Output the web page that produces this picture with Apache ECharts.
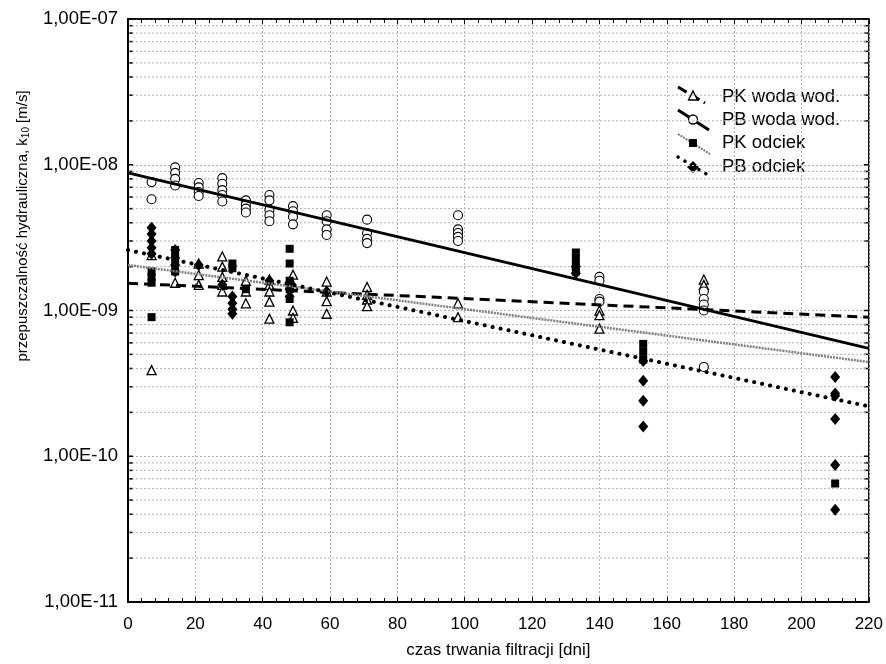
<!DOCTYPE html>
<html><head><meta charset="utf-8">
<script src="https://cdn.jsdelivr.net/npm/echarts@6/dist/echarts.min.js"></script>
<style>html,body{margin:0;padding:0;background:#fff}#c{width:886px;height:664px}</style>
</head><body><div id="c"></div>
<script>
// ---- data ----
const xTickValues = [0,20,40,60,80,100,120,140,160,180,200,220];
const yDecades = [1e-11,1e-10,1e-9,1e-8,1e-7];
const yTickLabels = ['1,00E-11','1,00E-10','1,00E-09','1,00E-08','1,00E-07'];
const seriesNames = ['PK woda wod.','PB woda wod.','PK odciek','PB odciek'];

// PK woda wod. (open triangles): [day, k10]
const pkWoda = [
 [7,2.4e-9],[7,3.9e-10],
 [14,1.55e-9],
 [21,2.1e-9],[21,1.75e-9],[21,1.5e-9],
 [28,2.35e-9],[28,2.0e-9],[28,1.7e-9],[28,1.5e-9],[28,1.35e-9],
 [35,1.6e-9],[35,1.35e-9],[35,1.12e-9],
 [42,1.63e-9],[42,1.5e-9],[42,1.35e-9],[42,1.15e-9],[42,8.8e-10],
 [49,1.76e-9],[49,1.5e-9],[49,1.0e-9],[49,8.9e-10],
 [59,1.58e-9],[59,1.35e-9],[59,1.16e-9],[59,9.5e-10],
 [71,1.45e-9],[71,1.28e-9],[71,1.19e-9],[71,1.07e-9],
 [98,1.12e-9],[98,9.0e-10],
 [140,1.0e-9],[140,9.3e-10],[140,7.5e-10],
 [171,1.63e-9],[171,1.5e-9]
];
// PB woda wod. (open circles)
const pbWoda = [
 [7,7.6e-9],[7,5.8e-9],
 [14,9.6e-9],[14,8.8e-9],[14,8.0e-9],[14,7.2e-9],
 [21,7.5e-9],[21,7.0e-9],[21,6.5e-9],[21,6.1e-9],
 [28,8.1e-9],[28,7.4e-9],[28,6.7e-9],[28,6.2e-9],[28,5.6e-9],
 [35,5.7e-9],[35,5.3e-9],[35,5.0e-9],[35,4.7e-9],
 [42,6.2e-9],[42,5.7e-9],[42,4.9e-9],[42,4.5e-9],[42,4.1e-9],
 [49,5.2e-9],[49,4.8e-9],[49,4.4e-9],[49,3.9e-9],
 [59,4.5e-9],[59,4.1e-9],[59,3.6e-9],[59,3.3e-9],
 [71,4.2e-9],[71,3.4e-9],[71,3.1e-9],[71,2.9e-9],
 [98,4.5e-9],[98,3.6e-9],[98,3.4e-9],[98,3.2e-9],[98,3.0e-9],
 [140,1.7e-9],[140,1.6e-9],[140,1.2e-9],[140,1.15e-9],
 [171,1.35e-9],[171,1.2e-9],[171,1.1e-9],[171,1.0e-9],[171,4.1e-10]
];
// PK odciek (filled squares)
const pkOdciek = [
 [7,1.85e-9],[7,1.7e-9],[7,1.55e-9],[7,9.0e-10],
 [14,2.6e-9],[14,2.35e-9],[14,2.1e-9],[14,1.85e-9],
 [31,2.1e-9],[31,1.95e-9],
 [35,1.4e-9],
 [48,2.65e-9],[48,2.1e-9],[48,1.6e-9],[48,1.4e-9],[48,1.2e-9],[48,8.3e-10],
 [133,2.5e-9],[133,2.25e-9],[133,2.0e-9],[133,1.85e-9],
 [153,5.9e-10],[153,5.2e-10],[153,4.6e-10],
 [210,6.5e-11]
];
// PB odciek (filled diamonds)
const pbOdciek = [
 [7,3.7e-9],[7,3.35e-9],[7,3.0e-9],[7,2.7e-9],[7,2.45e-9],
 [14,2.6e-9],[14,2.3e-9],[14,2.05e-9],[14,1.85e-9],
 [21,2.05e-9],
 [28,1.5e-9],
 [31,1.25e-9],[31,1.12e-9],[31,1.02e-9],[31,9.5e-10],
 [42,1.6e-9],
 [48,1.55e-9],[48,1.4e-9],[48,1.25e-9],
 [59,1.35e-9],
 [133,2.0e-9],[133,1.8e-9],
 [153,4.5e-10],[153,3.3e-10],[153,2.4e-10],[153,1.6e-10],
 [210,3.5e-10],[210,2.7e-10],[210,2.6e-10],[210,1.8e-10],[210,8.7e-11],[210,4.3e-11]
];
// exponential trend lines: values at day 0 and day 220
const trendDays = [0,220];
const pkWodaTrend = [1.54e-9, 9.0e-10];
const pbWodaTrend = [8.8e-9, 5.5e-10];
const pkOdciekTrend = [2.05e-9, 4.43e-10];
const pbOdciekTrend = [2.6e-9, 2.2e-10];

// ---- chart ----
const FONT = "'Liberation Sans', Arial, sans-serif";
const NARROW = "'Liberation Sans Narrow', 'Arial Narrow', 'Liberation Sans', sans-serif";
const minorVals = [];
for (let e = -11; e < -7; e++) for (let m = 1; m <= 9; m++) minorVals.push(m * Math.pow(10, e));
minorVals.push(1e-7);

const chart = echarts.init(document.getElementById('c'), null, {renderer:'canvas'});
const trend = (vals) => trendDays.map((d,i)=>[d, vals[i]]);
const GRID_LINE = {color:'#b4b4b4', width:1, type:[2,2]};

chart.setOption({
  animation:false,
  backgroundColor:'#fff',
  grid:{left:128, right:13, top:19, bottom:58, show:true, borderColor:'#000', borderWidth:1.5, backgroundColor:'transparent'},
  xAxis:[{
    type:'value', min:0, max:220, interval:20, position:'bottom',
    name:'czas trwania filtracji [dni]', nameLocation:'middle', nameGap:40,
    nameTextStyle:{fontFamily:NARROW, fontSize:17, color:'#000'},
    axisLine:{show:true, onZero:false, lineStyle:{color:'#000', width:2}},
    axisTick:{show:true, inside:true, length:5, lineStyle:{color:'#000'}},
    minorTick:{show:true, splitNumber:5, length:4, lineStyle:{color:'#000'}},
    axisLabel:{fontFamily:NARROW, fontSize:17, color:'#000', margin:14},
    splitLine:{show:true, lineStyle:GRID_LINE}
  },{
    type:'value', min:0, max:220, interval:20, position:'top',
    axisLine:{show:true, onZero:false, lineStyle:{color:'#000', width:1.5}},
    axisTick:{show:true, inside:true, length:5, lineStyle:{color:'#000'}},
    minorTick:{show:true, splitNumber:5, length:4, lineStyle:{color:'#000'}},
    axisLabel:{show:false}, splitLine:{show:false}
  }],
  yAxis:[{
    type:'log', logBase:10, min:1e-11, max:1e-7,
    axisLine:{show:true, onZero:false, lineStyle:{color:'#000', width:2}},
    axisTick:{show:false},
    axisLabel:{fontFamily:FONT, fontSize:18.5, color:'#000', margin:10,
      formatter:(v)=>{const i = yDecades.findIndex(d=>Math.abs(Math.log10(d)-Math.log10(v))<1e-6); return i>=0?yTickLabels[i]:'';}},
    splitLine:{show:true, lineStyle:GRID_LINE}
  }],
  graphic:[
    {type:'text', x:23, y:226, rotation:Math.PI/2, style:{
      text:'przepuszczalność hydrauliczna, k{s|10} [m/s]', fontFamily:FONT, fontSize:15, fill:'#000',
      align:'center', verticalAlign:'middle',
      rich:{s:{fontSize:10, verticalAlign:'bottom', padding:[6,0,0,0], fontFamily:FONT}}
    }},
    // legend
    {type:'group', children:[
      {type:'line', shape:{x1:678,y1:87,x2:705,y2:103}, style:{stroke:'#000', lineWidth:3, lineDash:[10,5]}},
      {type:'polygon', shape:{points:[[693,91],[697.5,100],[688.5,100]]}, style:{fill:'#fff', stroke:'#000', lineWidth:1.3}},
      {type:'text', x:722, y:97, style:{text:seriesNames[0], fontFamily:FONT, fontSize:18.5, fill:'#000', verticalAlign:'middle'}},

      {type:'line', shape:{x1:678,y1:110,x2:709,y2:130}, style:{stroke:'#000', lineWidth:3}},
      {type:'circle', shape:{cx:693, cy:119.5, r:4.5}, style:{fill:'#fff', stroke:'#000', lineWidth:1.3}},
      {type:'text', x:722, y:120, style:{text:seriesNames[1], fontFamily:FONT, fontSize:18.5, fill:'#000', verticalAlign:'middle'}},

      {type:'line', shape:{x1:678,y1:134,x2:710,y2:154}, style:{stroke:'#777', lineWidth:2, lineDash:[2,1]}},
      {type:'rect', shape:{x:689, y:139, width:8, height:8}, style:{fill:'#000'}},
      {type:'text', x:722, y:143, style:{text:seriesNames[2], fontFamily:FONT, fontSize:18.5, fill:'#000', verticalAlign:'middle'}},

      {type:'line', shape:{x1:678,y1:157,x2:708,y2:175}, style:{stroke:'#000', lineWidth:3.5, lineDash:[0.1,8], lineCap:'round'}},
      {type:'polygon', shape:{points:[[693,161],[699,167],[693,173],[687,167]]}, style:{fill:'#000'}},
      {type:'text', x:722, y:167, style:{text:seriesNames[3], fontFamily:FONT, fontSize:18.5, fill:'#000', verticalAlign:'middle'}}
    ]}
  ],
  series:[
    {type:'custom', silent:true, z:0, data:minorVals.map(v=>[0,v]),
     renderItem:(params, api)=>{
       const v = api.value(1);
       const p0 = api.coord([0,v]), p1 = api.coord([220,v]);
       const children = [
         {type:'line', shape:{x1:p0[0]+1,y1:p0[1],x2:p0[0]+5,y2:p0[1]}, style:{stroke:'#000', lineWidth:1.5}},
         {type:'line', shape:{x1:p1[0]-5,y1:p1[1],x2:p1[0],y2:p1[1]}, style:{stroke:'#000', lineWidth:1.5}}
       ];
       const isDecade = Math.abs(Math.log10(v) - Math.round(Math.log10(v))) < 1e-6;
       if (!isDecade) children.push({type:'line', shape:{x1:p0[0],y1:p0[1],x2:p1[0],y2:p1[1]}, style:{stroke:'#b4b4b4', lineWidth:1, lineDash:[2,2]}});
       return {type:'group', children};
     }},
    {name:seriesNames[0], type:'scatter', data:pkWoda, symbol:'triangle', symbolSize:[9,9], z:3,
     itemStyle:{color:'#fff', borderColor:'#000', borderWidth:1.3, opacity:1}},
    {name:seriesNames[1], type:'scatter', data:pbWoda, symbol:'circle', symbolSize:9, z:3,
     itemStyle:{color:'#fff', borderColor:'#000', borderWidth:1.1, opacity:1}},
    {name:seriesNames[2], type:'scatter', data:pkOdciek, symbol:'rect', symbolSize:8, z:3,
     itemStyle:{color:'#000', opacity:1}},
    {name:seriesNames[3], type:'scatter', data:pbOdciek, symbol:'diamond', symbolSize:[10,12], z:3,
     itemStyle:{color:'#000', opacity:1}},
    {type:'line', data:trend(pkWodaTrend), showSymbol:false, silent:true, z:5,
     lineStyle:{color:'#000', width:3, type:[10,6]}},
    {type:'line', data:trend(pbWodaTrend), showSymbol:false, silent:true, z:5,
     lineStyle:{color:'#000', width:3}},
    {type:'line', data:trend(pkOdciekTrend), showSymbol:false, silent:true, z:5,
     lineStyle:{color:'#808080', width:2.5, type:[2,1]}},
    {type:'line', data:trend(pbOdciekTrend), showSymbol:false, silent:true, z:5,
     lineStyle:{color:'#000', width:4, type:[0.1,8], cap:'round'}}
  ]
});
</script></body></html>
